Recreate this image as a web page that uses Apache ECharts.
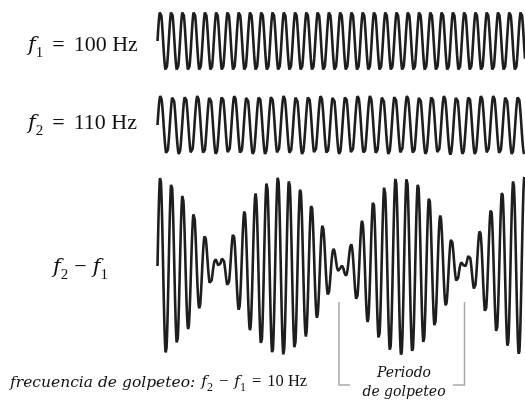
<!DOCTYPE html>
<html><head><meta charset="utf-8">
<script src="https://cdn.jsdelivr.net/npm/echarts@6/dist/echarts.min.js"></script>
<style>html,body{margin:0;padding:0;background:#fff}#c{width:525px;height:405px}</style>
</head><body><div id="c"></div>
<script>
// ---- data ----
const timeWindowMs = [0, 326];          // visible time span of every trace
const sampleStepMs = 0.2;
const topWaveHz = [100];                // f1 trace, as drawn
const middleWaveHz = [91.4];            // f2 trace, as drawn (period)
const beatComponentsHz = [96.0, 105.2]; // the two tones summed in the bottom trace
const labelFreqs = ['100 Hz', '110 Hz', '10 Hz'];
const footnoteText = ['frecuencia de golpeteo:'];
const bracketLabel = ['Periodo', 'de golpeteo'];

// ---- build sampled series ----
const times = [];
for (let v = timeWindowMs[0]; v <= timeWindowMs[1] + 1e-9; v += sampleStepMs) times.push(+v.toFixed(3));
const tone = (f, tMs) => Math.sin(2 * Math.PI * f * tMs / 1000);
const topData = times.map(t => [t, tone(topWaveHz[0], t)]);
const midData = times.map(t => [t, tone(middleWaveHz[0], t)]);
const botData = times.map(t => [t, 0.5 * (tone(beatComponentsHz[0], t) + tone(beatComponentsHz[1], t))]);

const INK = '#1e1e1e';
const SER = 'Liberation Serif';
const ITAL = 'DejaVu Serif';
const GRAY = '#a8a8a8';
const TXT = '#111';

const chart = echarts.init(document.getElementById('c'), null, {renderer: 'canvas'});

const grids = [
  {left: 157.5, right: 0, top: 11, height: 60},
  {left: 157.5, right: 0, top: 95.5, height: 59},
  {left: 157.5, right: 0, top: 176.5, height: 179}
];
const xAxes = grids.map((g, i) => ({type: 'value', gridIndex: i, min: timeWindowMs[0], max: timeWindowMs[1], show: false}));
const yAxes = grids.map((g, i) => ({type: 'value', gridIndex: i, min: -1, max: 1, show: false}));
const lineSeries = (data, i) => ({
  type: 'line', xAxisIndex: i, yAxisIndex: i, data, showSymbol: false, clip: false,
  lineStyle: {color: INK, width: 2.6}, animation: false, silent: true
});

function rich(big, sub, lift, gap) {
  return {
    i: {fontFamily: ITAL, fontStyle: 'italic', fontSize: big - 1, padding: [0, 0, lift, 0], verticalAlign: 'bottom', fill: TXT},
    s: {fontFamily: SER, fontSize: sub, verticalAlign: 'bottom', fill: TXT},
    o: {fontFamily: SER, fontSize: big, padding: [0, gap, lift, gap], verticalAlign: 'bottom', fill: TXT},
    r: {fontFamily: SER, fontSize: big, padding: [0, 0, lift, 0], verticalAlign: 'bottom', fill: TXT},
    t: {fontFamily: ITAL, fontStyle: 'italic', fontSize: big - 1, padding: [0, 6, lift - 1, 0], verticalAlign: 'bottom', fill: TXT}
  };
}
const fSub = n => '{i|f}{s|' + n + '}';

const graphics = [
  {type: 'text', left: 28, top: 34, style: {rich: rich(22, 15, 5, 9), text: fSub(1) + '{o|=}{r|' + labelFreqs[0] + '}'}},
  {type: 'text', left: 28, top: 112, style: {rich: rich(22, 15, 5, 9), text: fSub(2) + '{o|=}{r|' + labelFreqs[1] + '}'}},
  {type: 'text', left: 53, top: 256, style: {rich: rich(22, 15, 5, 6), text: fSub(2) + '{o|−}' + fSub(1)}},
  {type: 'text', left: 10, top: 373, style: {rich: rich(16.5, 12, 4, 6),
    text: '{t|' + footnoteText[0] + '}' + fSub(2) + '{o|−}' + fSub(1) + '{o|=}{r|' + labelFreqs[2] + '}'}},
  {type: 'text', x: 404, y: 366, style: {text: bracketLabel[0], fontFamily: ITAL, fontStyle: 'italic', fontSize: 14, fill: TXT, align: 'center', textAlign: 'center'}},
  {type: 'text', x: 404, y: 385, style: {text: bracketLabel[1], fontFamily: ITAL, fontStyle: 'italic', fontSize: 14, fill: TXT, align: 'center', textAlign: 'center'}},
  {type: 'polyline', shape: {points: [[339, 302], [339, 385], [350, 385]]}, style: {stroke: GRAY, lineWidth: 1.5, fill: null}},
  {type: 'polyline', shape: {points: [[464.5, 302], [464.5, 385], [453, 385]]}, style: {stroke: GRAY, lineWidth: 1.5, fill: null}}
];

chart.setOption({
  animation: false,
  backgroundColor: '#fff',
  grid: grids,
  xAxis: xAxes,
  yAxis: yAxes,
  series: [lineSeries(topData, 0), lineSeries(midData, 1), lineSeries(botData, 2)],
  graphic: graphics
});
</script>
</body></html>
